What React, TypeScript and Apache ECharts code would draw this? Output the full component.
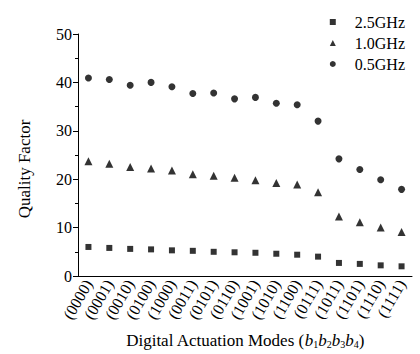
import React, { useEffect, useRef } from "react";
import * as echarts from "echarts";

const categories = [
  "(0000)", "(0001)", "(0010)", "(0100)", "(1000)", "(0011)", "(0101)", "(0110)",
  "(1001)", "(1010)", "(1100)", "(0111)", "(1011)", "(1101)", "(1110)", "(1111)",
];
const q25 = [6.0, 5.8, 5.6, 5.5, 5.3, 5.2, 5.0, 4.9, 4.8, 4.6, 4.4, 4.0, 2.7, 2.5, 2.2, 2.0];
const q10 = [23.7, 23.2, 22.5, 22.2, 21.8, 21.0, 20.7, 20.3, 19.8, 19.2, 18.9, 17.3, 12.3, 11.1, 10.0, 9.1];
const q05 = [40.9, 40.6, 39.4, 40.0, 39.1, 37.7, 37.8, 36.6, 36.9, 35.7, 35.4, 32.0, 24.2, 22.0, 19.9, 17.9];
const seriesNames = ["2.5GHz", "1.0GHz", "0.5GHz"];
const yTicks = { min: 0, max: 50, interval: 10 };

const FONT = "Liberation Serif";

export default function App() {
  const ref = useRef<HTMLDivElement>(null);
  useEffect(() => {
    if (!ref.current) return;
    const chart = echarts.init(ref.current, null, { renderer: "svg" });
    const mk = (name: string, data: number[], symbol: string, size: number) => ({
      name,
      type: "scatter",
      data,
      symbol,
      symbolSize: size,
      itemStyle: { color: "#000" },
    });
    chart.setOption({
      animation: false,
      backgroundColor: "#fff",
      textStyle: { fontFamily: FONT, color: "#000" },
      grid: { left: 78, right: 8, top: 34, bottom: 72, containLabel: false },
      legend: {
        orient: "vertical",
        right: 10,
        top: 9,
        itemWidth: 6,
        itemHeight: 6,
        itemGap: 5,
        textStyle: { fontFamily: FONT, fontSize: 16, color: "#000", padding: [0, 0, 0, 14] },
        data: [
          { name: seriesNames[0], icon: "rect" },
          { name: seriesNames[1], icon: "triangle" },
          { name: seriesNames[2], icon: "circle" },
        ],
      },
      xAxis: {
        type: "category",
        data: categories,
        boundaryGap: true,
        axisLine: { lineStyle: { color: "#000", width: 1 } },
        axisTick: { alignWithLabel: true, length: 4, lineStyle: { color: "#000" } },
        axisLabel: {
          rotate: 60,
          interval: 0,
          margin: 5,
          fontFamily: FONT,
          fontSize: 16,
          color: "#000",
        },
        name: "Digital Actuation Modes ({i|b}{s|1}{i|b}{s|2}{i|b}{s|3}{i|b}{s|4})",
        nameLocation: "middle",
        nameGap: 55,
        nameTextStyle: {
          fontFamily: FONT,
          fontSize: 17,
          color: "#000",
          rich: {
            i: { fontFamily: FONT, fontSize: 17, fontStyle: "italic", color: "#000" },
            s: { fontFamily: FONT, fontSize: 10, color: "#000", verticalAlign: "bottom", padding: [8, 0, 0, 0] },
          },
        },
        splitLine: { show: false },
      },
      yAxis: {
        type: "value",
        min: yTicks.min,
        max: yTicks.max,
        interval: yTicks.interval,
        axisLine: { show: true, lineStyle: { color: "#000", width: 1 } },
        axisTick: { show: true, length: 5, lineStyle: { color: "#000" } },
        minorTick: { show: true, splitNumber: 2, length: 3, lineStyle: { color: "#000" } },
        axisLabel: { fontFamily: FONT, fontSize: 16, color: "#000", margin: 6 },
        splitLine: { show: false },
        name: "Quality Factor",
        nameLocation: "middle",
        nameGap: 45,
        nameTextStyle: { fontFamily: FONT, fontSize: 17, color: "#000", padding: [0, 28, 0, 0] },
      },
      series: [
        mk(seriesNames[0], q25, "rect", 6),
        mk(seriesNames[1], q10, "triangle", 8),
        mk(seriesNames[2], q05, "circle", 7),
      ],
    });
    return () => chart.dispose();
  }, []);
  return <div ref={ref} style={{ width: 420, height: 354, position: "absolute", left: 0, top: 0 }} />;
}
